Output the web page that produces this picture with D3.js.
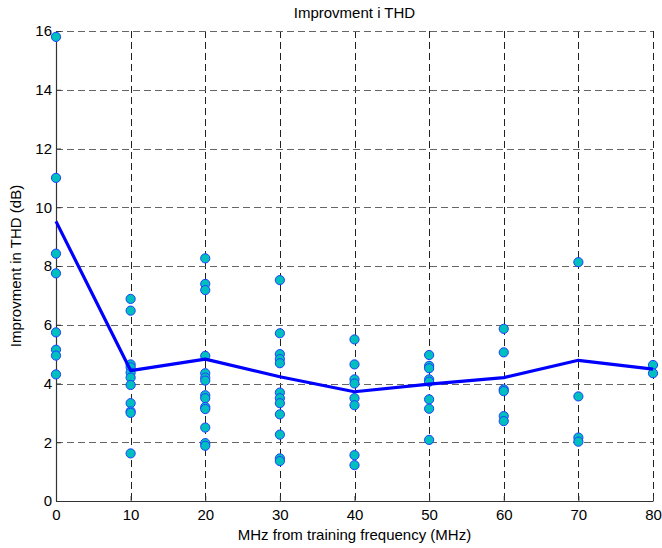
<!doctype html>
<html lang="en">
    <head>
        <meta charset="utf-8">
        <title>Improvment i THD</title>
        <script type="text/javascript" src="https://cdn.jsdelivr.net/npm/d3@7"></script>
        <style>
            body { margin: 0; background: #fff; }
            text { font-family: "Liberation Sans", Arial, sans-serif; }
        </style>
    </head>
    <body>
        <script type="text/javascript">

            var svgW = 662;
            var svgH = 548;
            var margin = {top: 31, right: 9, bottom: 47, left: 56};
            var w = svgW - margin.left - margin.right;
            var h = svgH - margin.top - margin.bottom;

            // offsets from training frequency (MHz)
            var offsets = [0, 10, 20, 30, 40, 50, 60, 70, 80];
            // measured improvement per offset (dB)
            var pts0  = [15.8, 11.0, 8.42, 7.75, 5.74, 5.15, 4.95, 4.31];
            var pts10 = [6.88, 6.48, 4.65, 4.55, 4.37, 4.2, 3.95, 3.33, 3.05, 3.0, 1.62];
            var pts20 = [8.26, 7.39, 7.18, 4.94, 4.35, 4.2, 4.1, 3.6, 3.5, 3.2, 3.13, 2.5, 1.97, 1.88];
            var pts30 = [7.52, 5.71, 5.0, 4.83, 4.69, 3.69, 3.5, 3.33, 2.95, 2.26, 1.45, 1.36];
            var pts40 = [5.5, 4.65, 4.14, 4.0, 3.5, 3.26, 1.56, 1.22];
            var pts50 = [4.97, 4.6, 4.52, 4.14, 4.06, 3.46, 3.14, 2.08];
            var pts60 = [5.86, 5.06, 3.8, 3.74, 2.89, 2.72];
            var pts70 = [8.13, 3.56, 2.16, 2.02];
            var pts80 = [4.63, 4.35];
            var average = [9.52, 4.44, 4.83, 4.23, 3.72, 3.98, 4.2, 4.79, 4.49];

            var xTicks = [0, 10, 20, 30, 40, 50, 60, 70, 80];
            var yTicks = [0, 2, 4, 6, 8, 10, 12, 14, 16];

            var groups = [pts0, pts10, pts20, pts30, pts40, pts50, pts60, pts70, pts80];
            var points = [];
            groups.forEach((g, i) => g.forEach(v => points.push({x: offsets[i], y: v})));

            var xScale = d3.scaleLinear().domain([0, 80]).range([0, w]);
            var yScale = d3.scaleLinear().domain([0, 16]).range([h, 0]);

            var svg = d3.select("body")
                        .append("svg")
                        .attr("width", svgW)
                        .attr("height", svgH);

            var g = svg.append("g")
                       .attr("transform", "translate(" + margin.left + "," + margin.top + ")");

            // grid
            g.selectAll(".vgrid")
             .data(xTicks)
             .enter()
             .append("line")
             .attr("x1", d => Math.round(xScale(d)) + 0.5)
             .attr("x2", d => Math.round(xScale(d)) + 0.5)
             .attr("y1", 0)
             .attr("y2", h)
             .attr("stroke", "#222")
             .attr("stroke-dasharray", "7,4");

            g.selectAll(".hgrid")
             .data(yTicks)
             .enter()
             .append("line")
             .attr("x1", 0)
             .attr("x2", w)
             .attr("y1", d => Math.round(yScale(d)) + 0.5)
             .attr("y2", d => Math.round(yScale(d)) + 0.5)
             .attr("stroke", "#666")
             .attr("stroke-dasharray", "7,4");

            // axes
            var xAxis = d3.axisBottom(xScale).tickValues(xTicks).tickSizeInner(-5).tickSizeOuter(0).tickPadding(8);
            var yAxis = d3.axisLeft(yScale).tickValues(yTicks).tickSizeInner(-5).tickSizeOuter(0).tickPadding(4);

            var gx = g.append("g")
                      .attr("transform", "translate(0," + h + ")")
                      .call(xAxis);
            var gy = g.append("g").call(yAxis);

            [gx, gy].forEach(a => {
                a.select(".domain").attr("stroke", "#333").attr("stroke-width", 1.2);
                a.selectAll(".tick line").attr("stroke", "#333");
                a.selectAll(".tick text")
                 .attr("font-size", "15px")
                 .attr("fill", "#000")
                 .attr("font-family", "'Liberation Sans', Arial, sans-serif");
            });

            // points
            g.selectAll(".pt")
             .data(points)
             .enter()
             .append("circle")
             .attr("cx", d => xScale(d.x))
             .attr("cy", d => yScale(d.y))
             .attr("r", 4.6)
             .attr("fill", "#00bfbf")
             .attr("stroke", "#1f3fff")
             .attr("stroke-width", 1);

            // average line
            var line = d3.line()
                         .x((d, i) => xScale(offsets[i]))
                         .y(d => yScale(d));

            g.append("path")
             .datum(average)
             .attr("d", line)
             .attr("fill", "none")
             .attr("stroke", "#0000ff")
             .attr("stroke-width", 3.2)
             .attr("stroke-linejoin", "round");

            // labels
            svg.append("text")
               .text("Improvment i THD")
               .attr("x", margin.left + w / 2)
               .attr("y", 18)
               .attr("text-anchor", "middle")
               .attr("font-size", "15px");

            svg.append("text")
               .text("MHz from training frequency (MHz)")
               .attr("x", margin.left + w / 2)
               .attr("y", 540)
               .attr("text-anchor", "middle")
               .attr("font-size", "15px");

            svg.append("text")
               .text("Improvment in THD (dB)")
               .attr("transform", "translate(21," + (margin.top + h / 2) + ") rotate(-90)")
               .attr("text-anchor", "middle")
               .attr("font-size", "15px");

        </script>
    </body>
</html>
